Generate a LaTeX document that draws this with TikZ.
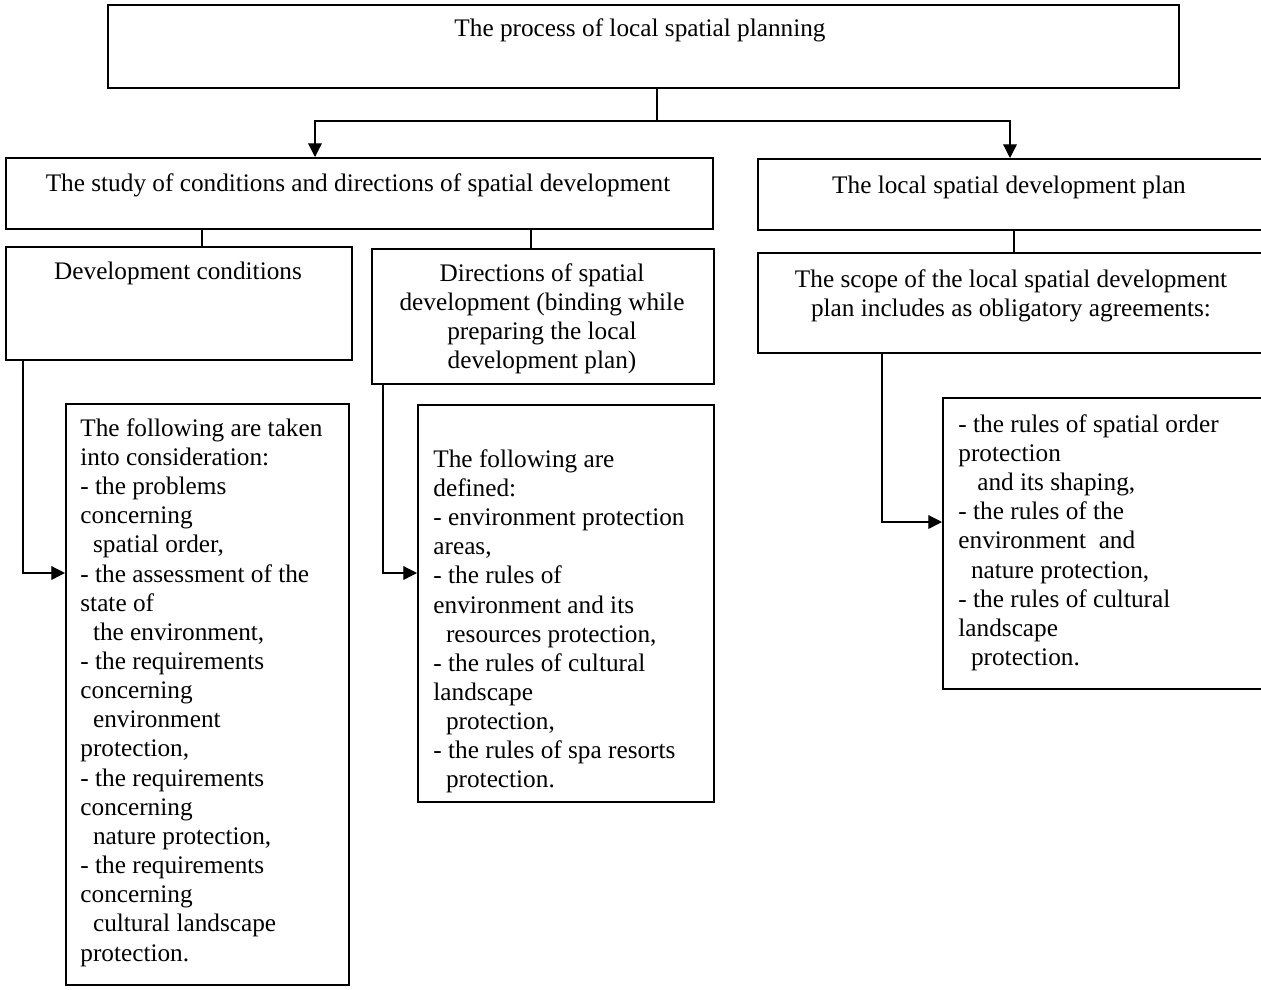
\documentclass[tikz,border=0pt]{standalone}
\usepackage{fontspec}
\setmainfont{Liberation Serif}
\usetikzlibrary{arrows.meta}
\newcommand{\indA}{\hspace*{6pt}}
\newcommand{\indB}{\hspace*{9pt}}

\begin{document}
\begin{tikzpicture}[x=0.475pt, y=-0.475pt,
  font=\fontsize{12}{13.85}\selectfont,
  box/.style 2 args={draw, line width=0.8pt, anchor=north west, inner sep=0pt,
    minimum width=#1*0.475pt, minimum height=#2*0.475pt},
  txt/.style={inner sep=0pt, anchor=base, align=center},
  lines/.style={inner sep=0pt, anchor=north, align=center},
  list/.style={inner sep=0pt, anchor=north west, align=left},
  link/.style={line width=0.6pt},
  arr/.style={line width=0.6pt, -{Triangle[length=6.5pt,width=6.5pt]}}]
\useasboundingbox (0,0) rectangle (1261,989);

% boxes
\node[box={1071}{83}] (top) at (107,4) {};
\node[box={707}{71}] (study) at (5,157) {};
\node[box={509}{71}] (plan) at (757,158) {};
\node[box={346}{113}] (dev) at (5,246) {};
\node[box={342}{135}] (dir) at (371,248) {};
\node[box={509}{100}] (scope) at (757,252) {};
\node[box={283}{581}] (cons) at (65,403) {};
\node[box={296}{397}] (defn) at (417,404) {};
\node[box={324}{291}] (rules) at (942,397) {};

% texts
\node[txt] (toptext) at (640,36) {The process of local spatial planning};
\node[txt] (studytext) at (358,191) {The study of conditions and directions of spatial development};
\node[txt] (plantext) at (1009,193) {The local spatial development plan};
\node[txt] (devtext) at (178,279) {Development conditions};
\node[lines] (dirtext) at (542,263) {Directions of spatial\\development (binding while\\preparing the local\\development plan)};
\node[lines] (scopetext) at (1011,269) {The scope of the local spatial development\\plan includes as obligatory agreements:};
\node[list] (constext) at (80,418) {The following are taken\\
into consideration:\\
- the problems\\
concerning\\
\indA spatial order,\\
- the assessment of the\\
state of\\
\indA the environment,\\
- the requirements\\
concerning\\
\indA environment\\
protection,\\
- the requirements\\
concerning\\
\indA nature protection,\\
- the requirements\\
concerning\\
\indA cultural landscape\\
protection.};
\node[list] (defntext) at (433,449) {The following are\\
defined:\\
- environment protection\\
areas,\\
- the rules of\\
environment and its\\
\indA resources protection,\\
- the rules of cultural\\
landscape\\
\indA protection,\\
- the rules of spa resorts\\
\indA protection.};
\node[list] (rulestext) at (958,414) {- the rules of spatial order\\
protection\\
\indB and its shaping,\\
- the rules of the\\
environment \ and\\
\indA nature protection,\\
- the rules of cultural\\
landscape\\
\indA protection.};

% connectors
\coordinate (split) at (657,121);
\draw[link] (top.south -| split) -- (split);
\draw[arr] (split) -| (study.north -| 315,0);
\draw[arr] (split) -| (plan.north -| 1010,0);
\draw[link] (study.south -| 202,0) -- (dev.north -| 202,0);
\draw[link] (study.south -| 531,0) -- (dir.north -| 531,0);
\draw[link] (plan.south -| 1014,0) -- (scope.north -| 1014,0);
\draw[arr] (dev.south -| 23,0) |- (cons.west |- 0,573);
\draw[arr] (dir.south -| 383,0) |- (defn.west |- 0,573);
\draw[arr] (scope.south -| 882,0) |- (rules.west |- 0,522);
\end{tikzpicture}
\end{document}
